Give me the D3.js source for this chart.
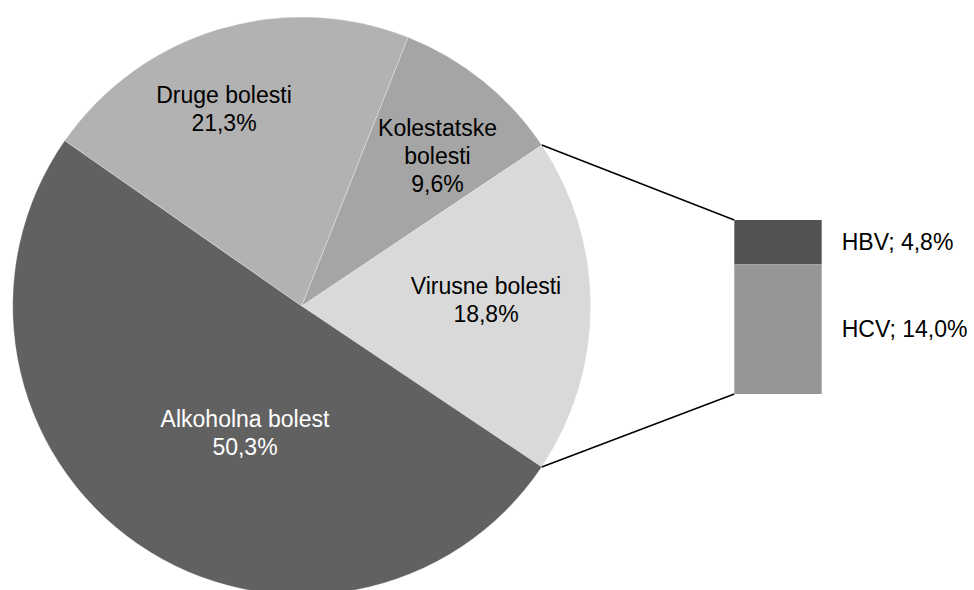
<!DOCTYPE html>
<html>
<head>
<meta charset="utf-8">
<script src="https://cdn.jsdelivr.net/npm/d3@7"></script>
<style>
  html, body { margin: 0; padding: 0; background: #ffffff; }
  svg { display: block; }
  text { font-family: "Liberation Sans", Arial, sans-serif; }
</style>
</head>
<body>
<svg id="chart" width="974" height="590"></svg>
<script>
// ---- data ----
const categories = ["Virusne bolesti", "Alkoholna bolest", "Druge bolesti", "Kolestatske bolesti"];
const values = [18.8, 50.3, 21.3, 9.6];
const labelLines = [["Virusne bolesti"], ["Alkoholna bolest"], ["Druge bolesti"], ["Kolestatske", "bolesti"]];
const subCategories = ["HBV", "HCV"];
const subValues = [4.8, 14.0];

// ---- layout / style ----
const W = 974, H = 590;
const cx = 301.7, cy = 306, R = 289;
const sliceColors = ["#d9d9d9", "#616161", "#b2b2b2", "#a5a5a5"];
const subColors = ["#525252", "#969696"];
const fontSize = 23, lineH = 28;
// label anchor (center x, first baseline y) chosen to mirror reference placement
const labelAnchors = [[486, 293.5], [245, 427], [224, 102.5], [437.5, 136]];
const labelColors = ["#000", "#fff", "#000", "#000"];
const bar = { x0: 734.3, x1: 821.7, y0: 220, y1: 394 };

const svg = d3.select("#chart");
const fmt = v => d3.format(".1f")(v).replace(".", ",") + "%";

// pie: first slice (Virusne) centred on the right horizontal
const total = d3.sum(values);
const startA = Math.PI / 2 - (values[0] / total) * Math.PI;
const pie = d3.pie().sort(null).value(d => d).startAngle(startA).endAngle(startA + 2 * Math.PI);
const arcs = pie(values);
const arc = d3.arc().innerRadius(0).outerRadius(R);

const g = svg.append("g").attr("transform", `translate(${cx},${cy})`);
g.selectAll("path.slice").data(arcs).join("path")
  .attr("class", "slice")
  .attr("d", arc)
  .attr("fill", (d, i) => sliceColors[i])
  .attr("stroke", "#ffffff")
  .attr("stroke-opacity", 0.5)
  .attr("stroke-width", 0.6);

// connector lines from Virusne slice edge to the bar
const v = arcs[0];
const pt = a => [cx + R * Math.sin(a), cy - R * Math.cos(a)];
const pStart = pt(v.startAngle), pEnd = pt(v.endAngle);

const y = d3.scaleLinear().domain([0, d3.sum(subValues)]).range([bar.y0, bar.y1]);
svg.append("line").attr("x1", pStart[0]).attr("y1", pStart[1]).attr("x2", bar.x0).attr("y2", y(0))
  .attr("stroke", "#000").attr("stroke-width", 1.5);
svg.append("line").attr("x1", pEnd[0]).attr("y1", pEnd[1]).attr("x2", bar.x0).attr("y2", y(d3.sum(subValues)))
  .attr("stroke", "#000").attr("stroke-width", 1.5);

// stacked bar
let cum = 0;
const stacks = subValues.map((val, i) => { const s = { i, y0: cum, y1: cum + val, val }; cum += val; return s; });
svg.selectAll("rect.sub").data(stacks).join("rect")
  .attr("class", "sub")
  .attr("x", bar.x0)
  .attr("width", bar.x1 - bar.x0)
  .attr("y", d => y(d.y0))
  .attr("height", d => y(d.y1) - y(d.y0))
  .attr("fill", d => subColors[d.i]);

svg.selectAll("text.sublab").data(stacks).join("text")
  .attr("class", "sublab")
  .attr("x", 841.7)
  .attr("y", d => (y(d.y0) + y(d.y1)) / 2 + 0.35 * fontSize)
  .attr("font-size", fontSize)
  .attr("fill", "#000")
  .text(d => `${subCategories[d.i]}; ${fmt(d.val)}`);

// pie labels
arcs.forEach((d, i) => {
  const lines = labelLines[i].concat([fmt(values[i])]);
  const t = svg.append("text")
    .attr("text-anchor", "middle")
    .attr("font-size", fontSize)
    .attr("fill", labelColors[i]);
  lines.forEach((ln, k) => {
    t.append("tspan").attr("x", labelAnchors[i][0]).attr("y", labelAnchors[i][1] + k * lineH).text(ln);
  });
});
</script>
</body>
</html>
